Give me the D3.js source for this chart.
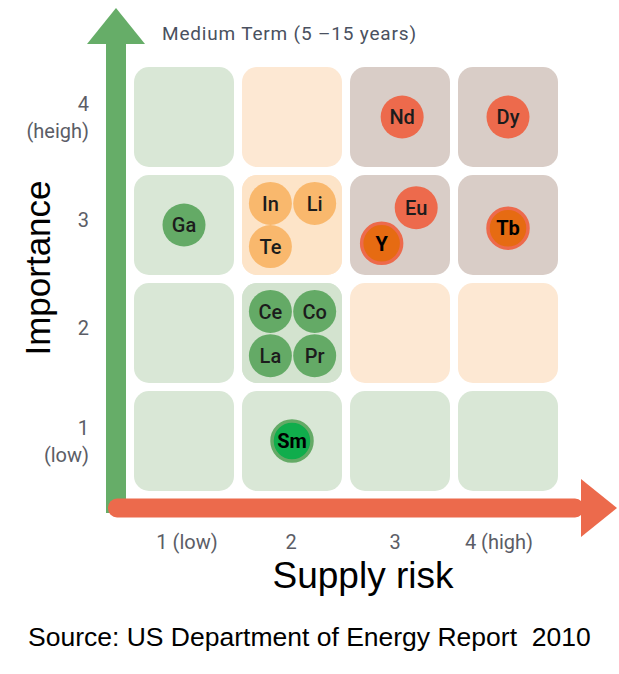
<!DOCTYPE html>
<html>
<head>
<meta charset="utf-8">
<script src="https://cdn.jsdelivr.net/npm/d3@7"></script>
<style>
  body { margin: 0; background: #fff; }
  svg { display: block; }
  .tick-label { font-family: Roboto, sans-serif; font-size: 20px; fill: #5b5d66; }
  .big-label { font-family: "Liberation Sans", Arial, sans-serif; fill: #000; }
  .el-label { font-family: Roboto, sans-serif; font-weight: 500; font-size: 20px; fill: #1c1c1c; }
</style>
</head>
<body>
<script>
// supply risk / importance scores (1 = low, 4 = high)
const elements = ['Ga', 'In', 'Li', 'Te', 'Nd', 'Dy', 'Eu', 'Y', 'Tb', 'Ce', 'Co', 'La', 'Pr', 'Sm'];
const supplyRisk = [1, 1.8, 2.21, 1.8, 3.02, 4, 3.15, 2.83, 4, 1.8, 2.21, 1.8, 2.21, 2];
const importance = [3, 3.2, 3.2, 2.8, 4, 4, 3.16, 2.83, 2.97, 2.2, 2.2, 1.79, 1.79, 1];
const criticality = ['not', 'near', 'near', 'near', 'critical', 'critical', 'critical', 'critical-hi', 'critical-hi',
  'not', 'not', 'not', 'not', 'not-hi'];

// zone of each cell, rows from importance 4 down to 1, columns supply risk 1..4
const zoneRows = [
  ['not', 'near', 'critical', 'critical'],
  ['not', 'near', 'critical', 'critical'],
  ['not', 'not', 'near', 'near'],
  ['not', 'not', 'not', 'not'],
];
const rowLevels = [4, 3, 2, 1];
const colLevels = [1, 2, 3, 4];

const xTickLabels = ['1 (low)', '2', '3', '4 (high)'];
const yTickLabels = [['1', '(low)'], ['2'], ['3'], ['4', '(heigh)']];

const zoneFill = { not: '#d9e7d6', near: '#fde8d3', critical: '#d9cdc7' };
const dotFill = {
  not: '#64aa66', 'not-hi': '#10ad4c',
  near: '#f9b86d',
  critical: '#ed6a4c', 'critical-hi': '#e66b12',
};
const dotStroke = { 'not-hi': '#64aa66', 'critical-hi': '#ed6a4c' };

const width = 619;
const height = 674;

const x = d3.scaleLinear().domain([0.5, 4.5]).range([130, 562]);
const y = d3.scaleLinear().domain([0.5, 4.5]).range([495, 63]);
const xLab = d3.scaleLinear().domain([1, 4]).range([187, 499]);

const svg = d3.select('body').append('svg')
  .attr('width', width)
  .attr('height', height);

const cells = [];
zoneRows.forEach((row, ri) => {
  row.forEach((zone, ci) => {
    cells.push({ r: rowLevels[ri], c: colLevels[ci], zone });
  });
});

const gap = 4;
svg.append('g').selectAll('rect')
  .data(cells)
  .enter().append('rect')
  .attr('x', d => x(d.c - 0.5) + gap)
  .attr('y', d => y(d.r + 0.5) + gap)
  .attr('width', d => x(d.c + 0.5) - x(d.c - 0.5) - gap * 2)
  .attr('height', d => y(d.r - 0.5) - y(d.r + 0.5) - gap * 2)
  .attr('rx', 15)
  .attr('fill', d => zoneFill[d.zone]);

// slightly deeper cell behind grouped elements
svg.append('rect')
  .attr('x', x(1.5) + gap).attr('y', y(3.5) + gap)
  .attr('width', 100).attr('height', 100).attr('rx', 15)
  .attr('fill', '#fde4c8');
svg.append('rect')
  .attr('x', x(1.5) + gap).attr('y', y(2.5) + gap)
  .attr('width', 100).attr('height', 100).attr('rx', 15)
  .attr('fill', '#d3e3cf');

// arrows
const ax = x(0.5) - 14;
svg.append('rect')
  .attr('x', ax - 10).attr('y', 43)
  .attr('width', 20).attr('height', 470)
  .attr('fill', '#66ad68');
svg.append('path')
  .attr('d', `M${ax - 29},44 L${ax + 29},44 L${ax},8 Z`)
  .attr('fill', '#66ad68');

const ay = y(0.5) + 13;
svg.append('rect')
  .attr('x', 108).attr('y', ay - 9.5)
  .attr('width', 476).attr('height', 19)
  .attr('rx', 9)
  .attr('fill', '#ec6a4c');
svg.append('path')
  .attr('d', `M581,${ay - 29} L617,${ay} L581,${ay + 29} Z`)
  .attr('fill', '#ec6a4c');

// element dots
const data = elements.map((name, i) => ({
  name, risk: supplyRisk[i], imp: importance[i], cat: criticality[i],
}));

const dots = svg.append('g').selectAll('g')
  .data(data)
  .enter().append('g')
  .attr('transform', d => `translate(${x(d.risk)}, ${y(d.imp)})`);

dots.append('circle')
  .attr('r', d => (dotStroke[d.cat] ? 20 : 21.5))
  .attr('fill', d => dotFill[d.cat])
  .attr('stroke', d => dotStroke[d.cat] || 'none')
  .attr('stroke-width', 3.5);

dots.append('text')
  .attr('class', 'el-label')
  .attr('text-anchor', 'middle')
  .attr('dy', '0.36em')
  .style('font-weight', d => (dotStroke[d.cat] ? 700 : 500))
  .style('fill', d => (dotStroke[d.cat] ? '#000' : '#1c1c1c'))
  .text(d => d.name);

// tick labels
svg.append('g').selectAll('text')
  .data(xTickLabels)
  .enter().append('text')
  .attr('class', 'tick-label')
  .attr('x', (d, i) => xLab(colLevels[i]))
  .attr('y', 549)
  .attr('text-anchor', 'middle')
  .text(d => d);

const yt = svg.append('g').selectAll('text')
  .data(yTickLabels)
  .enter().append('text')
  .attr('class', 'tick-label')
  .attr('text-anchor', 'end')
  .attr('y', (d, i) => y(i + 1) + (d.length > 1 ? -6 : 2));

yt.selectAll('tspan')
  .data(d => d)
  .enter().append('tspan')
  .attr('x', 89)
  .attr('dy', (d, i) => (i === 0 ? 0 : 27))
  .text(d => d);

svg.append('text')
  .attr('class', 'tick-label')
  .attr('x', 162)
  .attr('y', 40)
  .attr('textLength', 254)
  .style('font-size', '19px')
  .style('fill', '#4a5160')
  .text('Medium Term (5 –15 years)');

svg.append('text')
  .attr('class', 'big-label')
  .attr('transform', `translate(50, ${268}) rotate(-90)`)
  .attr('text-anchor', 'middle')
  .style('font-size', '35px')
  .text('Importance');

svg.append('text')
  .attr('class', 'big-label')
  .attr('x', 363)
  .attr('y', 588)
  .attr('text-anchor', 'middle')
  .style('font-size', '37px')
  .text('Supply risk');

svg.append('text')
  .attr('class', 'big-label')
  .attr('x', 28)
  .attr('y', 646)
  .style('font-size', '26.5px')
  .style('white-space', 'pre')
  .text('Source: US Department of Energy Report  2010');
</script>
</body>
</html>
